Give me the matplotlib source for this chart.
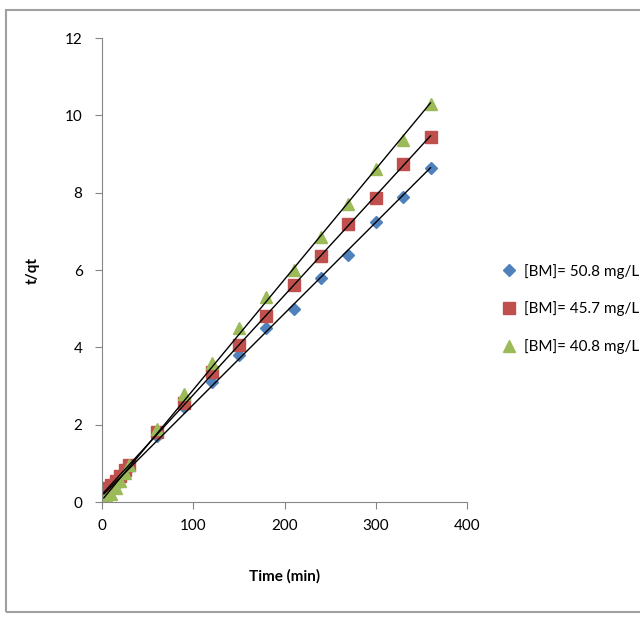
import numpy as np
import matplotlib.pyplot as plt
from matplotlib.patches import Rectangle

time_min = [2, 5, 10, 15, 20, 25, 30, 60, 90, 120, 150, 180, 210, 240, 270, 300, 330, 360]

tq_508 = [0.12, 0.2, 0.32, 0.45, 0.6, 0.75, 0.88, 1.7, 2.45, 3.1, 3.8, 4.5, 5.0, 5.8, 6.4, 7.25, 7.9, 8.65]
tq_457 = [0.22, 0.35, 0.45, 0.55, 0.68, 0.82, 0.95, 1.8, 2.55, 3.35, 4.05, 4.8, 5.6, 6.35, 7.2, 7.85, 8.75, 9.45]
tq_408 = [0.05, 0.1, 0.2, 0.35, 0.55, 0.75, 0.95, 1.9, 2.8, 3.6, 4.5, 5.3, 6.0, 6.85, 7.7, 8.6, 9.35, 10.3]

labels = ["[BM]= 50.8 mg/L", "[BM]= 45.7 mg/L", "[BM]= 40.8 mg/L"]
colors = ["#4F81BD", "#C0504D", "#9BBB59"]
markers = ["D", "s", "^"]
sizes = [6, 9, 9]

plt.rcParams['font.family'] = ['Lato', 'DejaVu Sans']

fig = plt.figure(figsize=(6.4, 6.22), dpi=100)
fig.patches.append(Rectangle((6 / 640, 10 / 622), 1.0, 1 - 20 / 622, transform=fig.transFigure,
                             fill=False, edgecolor="#a0a0a0", linewidth=1.5))
ax = fig.add_axes([102 / 640, 1 - 502 / 622, 365 / 640, 464 / 622])

x = np.array(time_min, dtype=float)
for y, lab, c, m, s in zip([tq_508, tq_457, tq_408], labels, colors, markers, sizes):
    ax.plot(x, y, linestyle="none", marker=m, color=c, markersize=s, label=lab)
for y in [tq_508, tq_457, tq_408]:
    k, b = np.polyfit(x, y, 1)
    xx = np.array([x.min(), x.max()])
    ax.plot(xx, k * xx + b, color="black", linewidth=1.0)

ax.set_xlim(0, 400)
ax.set_ylim(0, 12)
ax.set_xticks([0, 100, 200, 300, 400])
ax.set_yticks([0, 2, 4, 6, 8, 10, 12])
for sp in ["top", "right"]:
    ax.spines[sp].set_visible(False)
for sp in ["left", "bottom"]:
    ax.spines[sp].set_color("#868686")
ax.tick_params(colors="#868686", labelcolor="black", labelsize=11, length=5)
ax.tick_params(axis="y", pad=9)
ax.tick_params(axis="x", pad=7)
ax.set_xlabel("Time (min)", fontsize=11, fontweight="bold")
ax.set_ylabel("t/qt", fontsize=11, fontweight="bold")
ax.xaxis.set_label_coords(0.5, -0.145)
ax.yaxis.set_label_coords(-0.17, 0.5)

ax.legend(loc="center left", bbox_to_anchor=(501 / 640, 1 - 309 / 622), bbox_transform=fig.transFigure,
          frameon=False, fontsize=11, borderpad=0, borderaxespad=0,
          handletextpad=0.5, labelspacing=1.5, handlelength=1.0)

fig.savefig("out.png", dpi=100)
